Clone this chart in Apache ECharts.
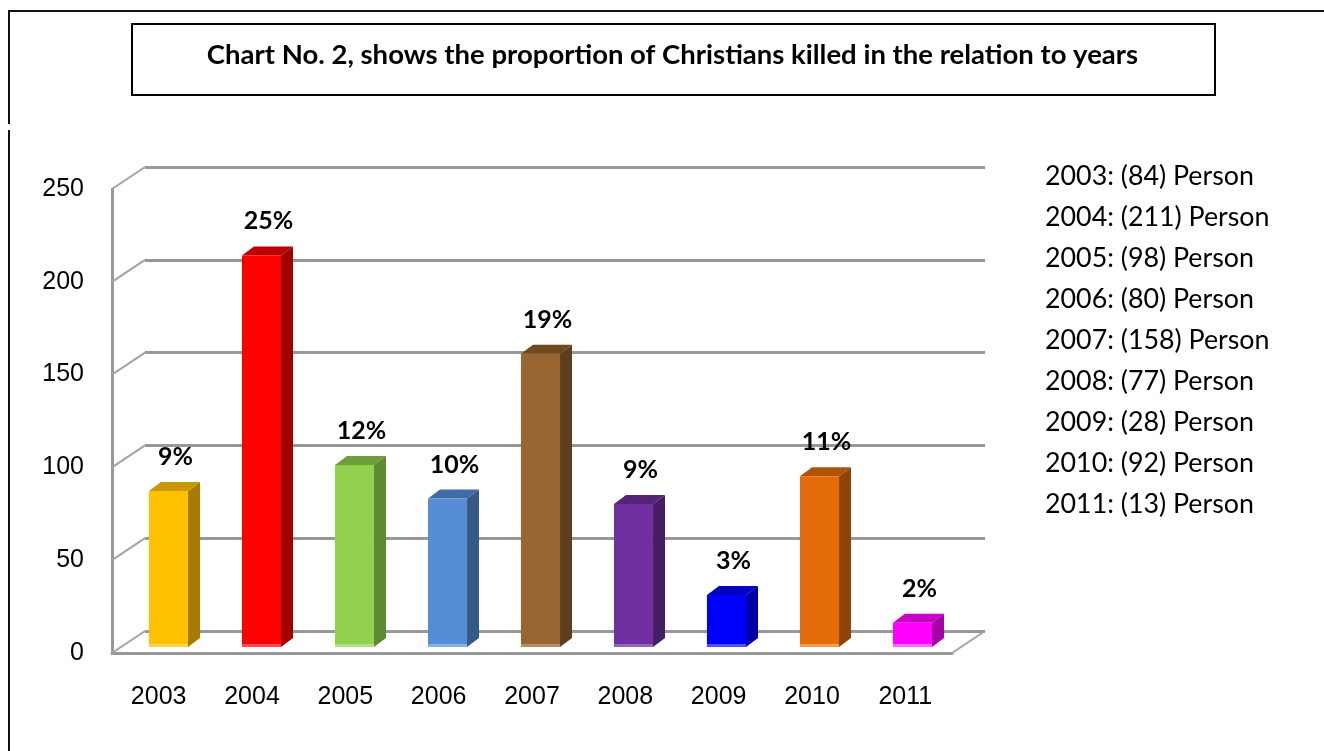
<!DOCTYPE html>
<html><head><meta charset="utf-8">
<script src="https://cdn.jsdelivr.net/npm/echarts/dist/echarts.min.js"></script>
<style>html,body{margin:0;padding:0;background:#fff}#c{width:1324px;height:751px}</style>
</head><body><div id="c"></div>
<script>
// ---- data ----
const years = ['2003','2004','2005','2006','2007','2008','2009','2010','2011'];
const persons = [84, 211, 98, 80, 158, 77, 28, 92, 13];
const percentLabels = ['9%','25%','12%','10%','19%','9%','3%','11%','2%'];
const yTicks = [0, 50, 100, 150, 200, 250];
const titleText = 'Chart No. 2, shows the proportion of Christians killed in the relation to years';

// ---- styles ----
const frontColors = ['#FFC000','#FF0000','#92D050','#558ED5','#996633','#7030A0','#0000FF','#E46C0A','#FF00FF'];
const topColors   = ['#C99800','#C00000','#6E9E3C','#3F6CA6','#70491F','#552478','#0000BE','#B05306','#C800C8'];
const sideColors  = ['#A67C00','#A00000','#5E8A32','#36598A','#5E3E1E','#451E63','#0000A8','#8F4507','#A600A6'];
const stripColors = ['#FFD24D','#FF4A4A','#B3E08A','#86B0E3','#B88A5E','#9564BD','#5050FF','#F09A52','#FF66FF'];
const WALL_DX = 33, WALL_DY = 22, BAR_DX = 12, BAR_DY = 9;
const GRID_COLOR = '#989898';

const chart = echarts.init(document.getElementById('c'));
const baseGrid = {containLabel:false, outerBoundsMode:'none'};

const option = {
  animation:false,
  backgroundColor:'#fff',
  grid:[
    Object.assign({left:145, top:167, width:840, height:464}, baseGrid),
    Object.assign({left:112, top:189, width:840, height:464}, baseGrid),
    Object.assign({left:122, top:183, width:837, height:464}, baseGrid)
  ],
  xAxis:[
    {gridIndex:0, type:'category', data:years, show:false},
    {gridIndex:1, type:'category', data:years,
      axisLine:{show:true, lineStyle:{color:GRID_COLOR, width:3}},
      axisTick:{show:false},
      axisLabel:{margin:32, color:'#000', fontSize:25, fontFamily:'Liberation Sans'}},
    {gridIndex:2, type:'category', data:years, show:false}
  ],
  yAxis:[
    {gridIndex:0, type:'value', min:0, max:250, interval:50,
      axisLine:{show:false}, axisTick:{show:false}, axisLabel:{show:false},
      splitLine:{show:true, lineStyle:{color:GRID_COLOR, width:3}}},
    {gridIndex:1, type:'value', min:0, max:250, interval:50,
      axisLine:{show:true, lineStyle:{color:GRID_COLOR, width:3}}, axisTick:{show:false},
      splitLine:{show:false},
      axisLabel:{margin:28, color:'#000', fontSize:25, fontFamily:'Liberation Sans'}},
    {gridIndex:2, type:'value', min:0, max:250, interval:50, show:false, splitLine:{show:false}}
  ],
  series:[
    {
      type:'custom', xAxisIndex:1, yAxisIndex:1, silent:true, z:1,
      data: yTicks.map(v => [0, v]),
      encode:{x:0, y:1},
      renderItem:function(params, api){
        const v = api.value(1);
        const p = api.coord([0, v]);
        const cs = params.coordSys;
        const children = [{type:'line', shape:{x1:cs.x, y1:p[1], x2:cs.x+WALL_DX, y2:p[1]-WALL_DY},
          style:{stroke:'#a4a4a4', lineWidth:2}}];
        if (v === 0) {
          children.push({type:'line', shape:{x1:cs.x+cs.width, y1:p[1], x2:cs.x+cs.width+WALL_DX, y2:p[1]-WALL_DY},
            style:{stroke:'#a4a4a4', lineWidth:2}});
        }
        return {type:'group', children};
      }
    },
    {
      type:'custom', xAxisIndex:2, yAxisIndex:2, silent:true, z:3,
      data: persons.map((v, i) => [i, v]),
      encode:{x:0, y:1},
      renderItem:function(params, api){
        const i = api.value(0), v = api.value(1);
        const top = api.coord([i, v]);
        const base = api.coord([i, 0]);
        const w = api.size([1, 0])[0] * 0.42;
        const x1 = top[0] - w/2, x2 = x1 + w, yt = top[1], yb = base[1];
        return {type:'group', children:[
          {type:'polygon', shape:{points:[[x2,yt],[x2+BAR_DX,yt-BAR_DY],[x2+BAR_DX,yb-BAR_DY],[x2,yb]]}, style:{fill:sideColors[i]}},
          {type:'polygon', shape:{points:[[x1,yt],[x1+BAR_DX,yt-BAR_DY],[x2+BAR_DX,yt-BAR_DY],[x2,yt]]}, style:{fill:topColors[i]}},
          {type:'rect', shape:{x:x1, y:yt, width:w, height:yb-yt}, style:{fill:frontColors[i]}},
          {type:'rect', shape:{x:x1, y:yb-3, width:w, height:3}, style:{fill:stripColors[i]}},
          {type:'text', x:(x1+x2+BAR_DX)/2+1, y:yt-BAR_DY-25,
            style:{text:percentLabels[i], font:'bold 25px Lato', fill:'#000', align:'center', verticalAlign:'middle'}}
        ]};
      }
    }
  ],
  graphic:[
    {type:'line', shape:{x1:8, y1:11, x2:1324, y2:11}, style:{stroke:'#111', lineWidth:2}},
    {type:'line', shape:{x1:9, y1:11, x2:9, y2:124}, style:{stroke:'#111', lineWidth:2}},
    {type:'line', shape:{x1:9, y1:130, x2:9, y2:751}, style:{stroke:'#111', lineWidth:2}},
    {type:'rect', shape:{x:132, y:24, width:1083, height:71}, style:{fill:'#fff', stroke:'#000', lineWidth:2}},
    {type:'text', x:672.5, y:55, style:{text:titleText, font:'bold 27.5px Lato', fill:'#000', align:'center', verticalAlign:'middle'}}
  ].concat(years.map((y, i) => ({
    type:'text', x:1045, y:176 + 41*i,
    style:{text: y + ': (' + persons[i] + ') Person', font:'26.8px Lato', fill:'#000', align:'left', verticalAlign:'middle'}
  })))
};
chart.setOption(option);
</script>
</body></html>
